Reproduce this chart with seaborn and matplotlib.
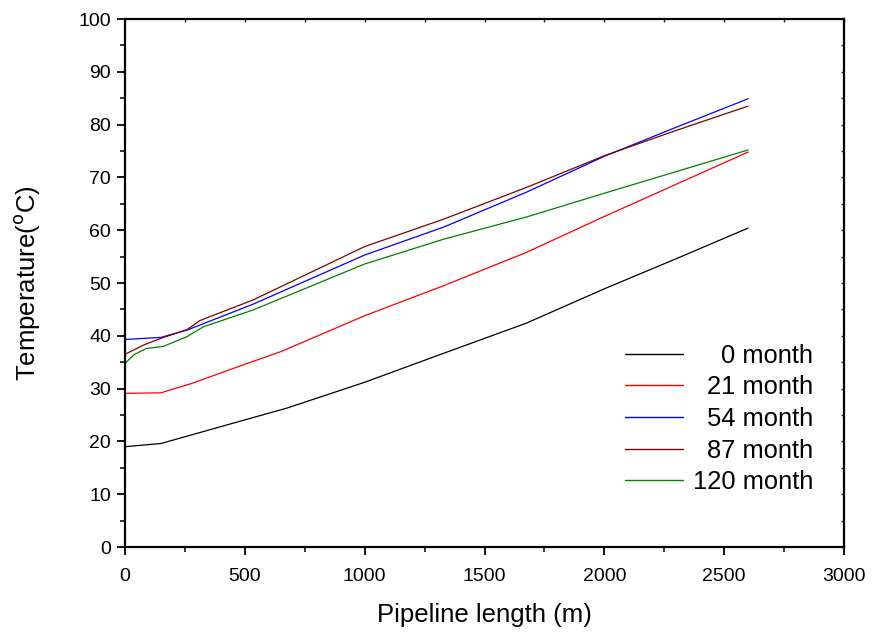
import numpy as np
import pandas as pd
import matplotlib
matplotlib.use("Agg")
import matplotlib.pyplot as plt
from matplotlib.ticker import MultipleLocator
import seaborn as sns

# Temperature profiles along the pipeline for several operating ages
dist_0 = [0, 150, 400, 675, 1000, 1300, 1675, 2000, 2300, 2600]
temp_0 = [19.0, 19.6, 22.8, 26.3, 31.2, 36.2, 42.4, 48.9, 54.6, 60.4]

dist_21 = [0, 150, 280, 500, 650, 1000, 1330, 1675, 2000, 2300, 2600]
temp_21 = [29.1, 29.2, 31.0, 34.6, 37.0, 43.8, 49.5, 55.8, 62.6, 68.7, 74.8]

dist_54 = [0, 150, 260, 535, 1000, 1330, 1675, 2000, 2300, 2600]
temp_54 = [39.3, 39.7, 41.1, 46.0, 55.3, 60.6, 67.2, 74.0, 79.5, 84.9]

dist_87 = [0, 80, 155, 260, 313, 535, 1000, 1330, 1675, 2000, 2300, 2600]
temp_87 = [36.5, 38.3, 39.6, 41.2, 42.9, 46.8, 56.9, 62.1, 68.1, 74.1, 78.9, 83.5]

dist_120 = [0, 40, 90, 160, 257, 327, 535, 1000, 1330, 1675, 2000, 2300, 2600]
temp_120 = [34.8, 36.5, 37.6, 38.0, 39.8, 41.7, 44.9, 53.6, 58.3, 62.5, 67.0, 71.1, 75.2]

series_names = ["0 month", "21 month", "54 month", "87 month", "120 month"]
series_colors = ["#000000", "#ff0000", "#0000ff", "#800000", "#008000"]

frames = []
for name, d, t in zip(series_names,
                      [dist_0, dist_21, dist_54, dist_87, dist_120],
                      [temp_0, temp_21, temp_54, temp_87, temp_120]):
    frames.append(pd.DataFrame({"length": d, "temp": t, "age": name}))
df = pd.concat(frames, ignore_index=True)

sns.set_style("ticks")
plt.rcParams["font.family"] = ["Liberation Sans", "DejaVu Sans"]
plt.rcParams["text.color"] = "black"
plt.rcParams["axes.labelcolor"] = "black"

fig = plt.figure(figsize=(8.72, 6.35), dpi=100)
ax = fig.add_axes([125 / 872, 1 - 547 / 635, 719 / 872, 528 / 635])

sns.lineplot(data=df, x="length", y="temp", hue="age",
             palette=dict(zip(series_names, series_colors)),
             hue_order=series_names, sort=False, estimator=None,
             linewidth=0.9, ax=ax)

ax.set_xlim(0, 3000)
ax.set_ylim(0, 100)
ax.xaxis.set_major_locator(MultipleLocator(500))
ax.xaxis.set_minor_locator(MultipleLocator(250))
ax.yaxis.set_major_locator(MultipleLocator(10))
ax.yaxis.set_minor_locator(MultipleLocator(5))

for sp in ax.spines.values():
    sp.set_visible(True)
    sp.set_linewidth(1.6)
    sp.set_color("black")

ax.tick_params(which="major", direction="out", length=6, width=1.3,
               labelsize=14, colors="black", pad=4)
ax.tick_params(which="minor", direction="out", length=3.5, width=1.3)
ax.tick_params(axis="x", which="major", pad=9)

# small inward ticks along the top and right edges
top = ax.secondary_xaxis("top")
top.xaxis.set_major_locator(MultipleLocator(250))
top.tick_params(direction="in", length=2.5, width=1.0, labeltop=False)
right = ax.secondary_yaxis("right")
right.yaxis.set_major_locator(MultipleLocator(5))
right.tick_params(direction="in", length=2.5, width=1.0, labelright=False)
for sec in (top, right):
    for sp in sec.spines.values():
        sp.set_visible(False)

ax.set_xlabel("Pipeline length (m)", fontsize=18.5, labelpad=13)
ax.set_ylabel("Temperature($^{\\rm o}$C)", fontsize=18.5, labelpad=26)

leg = ax.legend(loc="lower right", bbox_to_anchor=(0.957, 0.10),
                frameon=False, fontsize=18.4, handlelength=2.27,
                handletextpad=0.39, labelspacing=0.30,
                borderaxespad=0, borderpad=0)
for line in leg.get_lines():
    line.set_linewidth(1.0)
for t in leg.get_texts():
    t.set_color("black")

# right-align the legend labels on the widest one
fig.canvas.draw()
renderer = fig.canvas.get_renderer()
widths = [t.get_window_extent(renderer).width for t in leg.get_texts()]
wmax = max(widths)
for t, w in zip(leg.get_texts(), widths):
    t.set_ha("left")
    t.set_position((wmax - w, 0))

fig.savefig("out.png", dpi=100)
